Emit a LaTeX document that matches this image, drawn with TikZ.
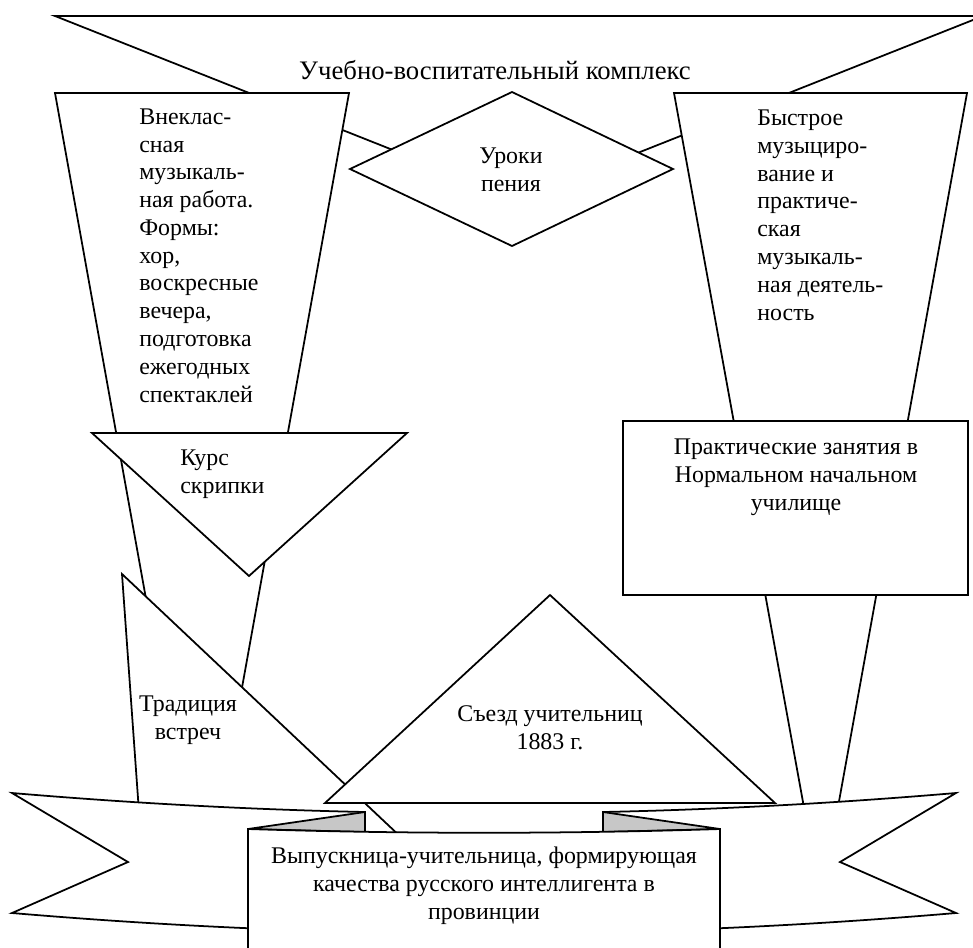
\documentclass[tikz,border=0pt]{standalone}
\usepackage{fontspec}
\setmainfont{Liberation Serif}
\begin{document}
\begin{tikzpicture}[x=0.02cm,y=-0.02cm,
   fig/.style={draw,fill=white,line width=1pt},
   fold/.style={draw,fill=black!22,line width=1pt},
   txt/.style={font=\fontsize{13.6}{15.8}\selectfont,inner sep=0pt}]
   \useasboundingbox (0,0) rectangle (973,947);
   \clip (0,0) rectangle (973,947);

   \draw[fig] (55,16) -- (983,16) -- (519,200) -- cycle;
   \draw[fig] (55,93) -- (349,93) -- (202,910) -- cycle;
   \draw[fig] (674,93) -- (967,93) -- (821,901) -- cycle;
   \draw[fig] (350,169) -- (512,92) -- (673,169) -- (512,246) -- cycle;
   \draw[fig] (623,421) rectangle (968,595);
   \draw[fig] (92,433) -- (407,433) -- (249,576) -- cycle;
   \draw[fig] (122,574) -- (404,840) -- (141,840) -- cycle;
   \draw[fig] (325,803) -- (550,595) -- (775,803) -- cycle;

   \draw[fig] (12,793) .. controls (130,803) and (247,809.5) .. (365,812) -- (365,932)
      .. controls (247,929.5) and (130,923) .. (12,913) -- (128,862) -- cycle;
   \draw[fig] (956,793) .. controls (838,803) and (721,809.5) .. (603,812) -- (603,932)
      .. controls (721,929.5) and (838,923) .. (956,913) -- (840,862) -- cycle;
   \draw[fold] (248,829) -- (365,812) -- (365,832) -- cycle;
   \draw[fold] (720,829) -- (603,812) -- (603,832) -- cycle;
   \draw[fig] (248,829) .. controls (405,834) and (563,834) .. (720,829) -- (720,960) -- (248,960) -- cycle;

   \node[txt,font=\fontsize{15.2}{17}\selectfont,anchor=base] (title) at (495,79) {Учебно-воспитательный комплекс};
   \node[txt,align=left,anchor=base west] (vneklass) at (139,402)
      {Внеклас-\\сная\\музыкаль-\\ная работа.\\Формы:\\хор,\\воскресные\\вечера,\\подготовка\\ежегодных\\спектаклей};
   \node[txt,align=center,anchor=base] (uroki) at (511,191) {Уроки\\пения};
   \node[txt,align=left,anchor=base west] (bystroe) at (757,320)
      {Быстрое\\музыциро-\\вание и\\практиче-\\ская\\музыкаль-\\ная деятель-\\ность};
   \node[txt,align=center,anchor=base] (praktika) at (796,510)
      {Практические занятия в\\Нормальном начальном\\училище};
   \node[txt,align=left,anchor=base west] (kurs) at (180,493) {Курс\\скрипки};
   \node[txt,align=center,anchor=base] (tradiciya) at (188,739) {Традиция\\встреч};
   \node[txt,align=center,anchor=base] (sezd) at (550,749) {Съезд учительниц\\1883 г.};
   \node[txt,align=center,anchor=base] (vypusk) at (484,919)
      {Выпускница-учительница, формирующая\\качества русского интеллигента в\\провинции};
\end{tikzpicture}
\end{document}
